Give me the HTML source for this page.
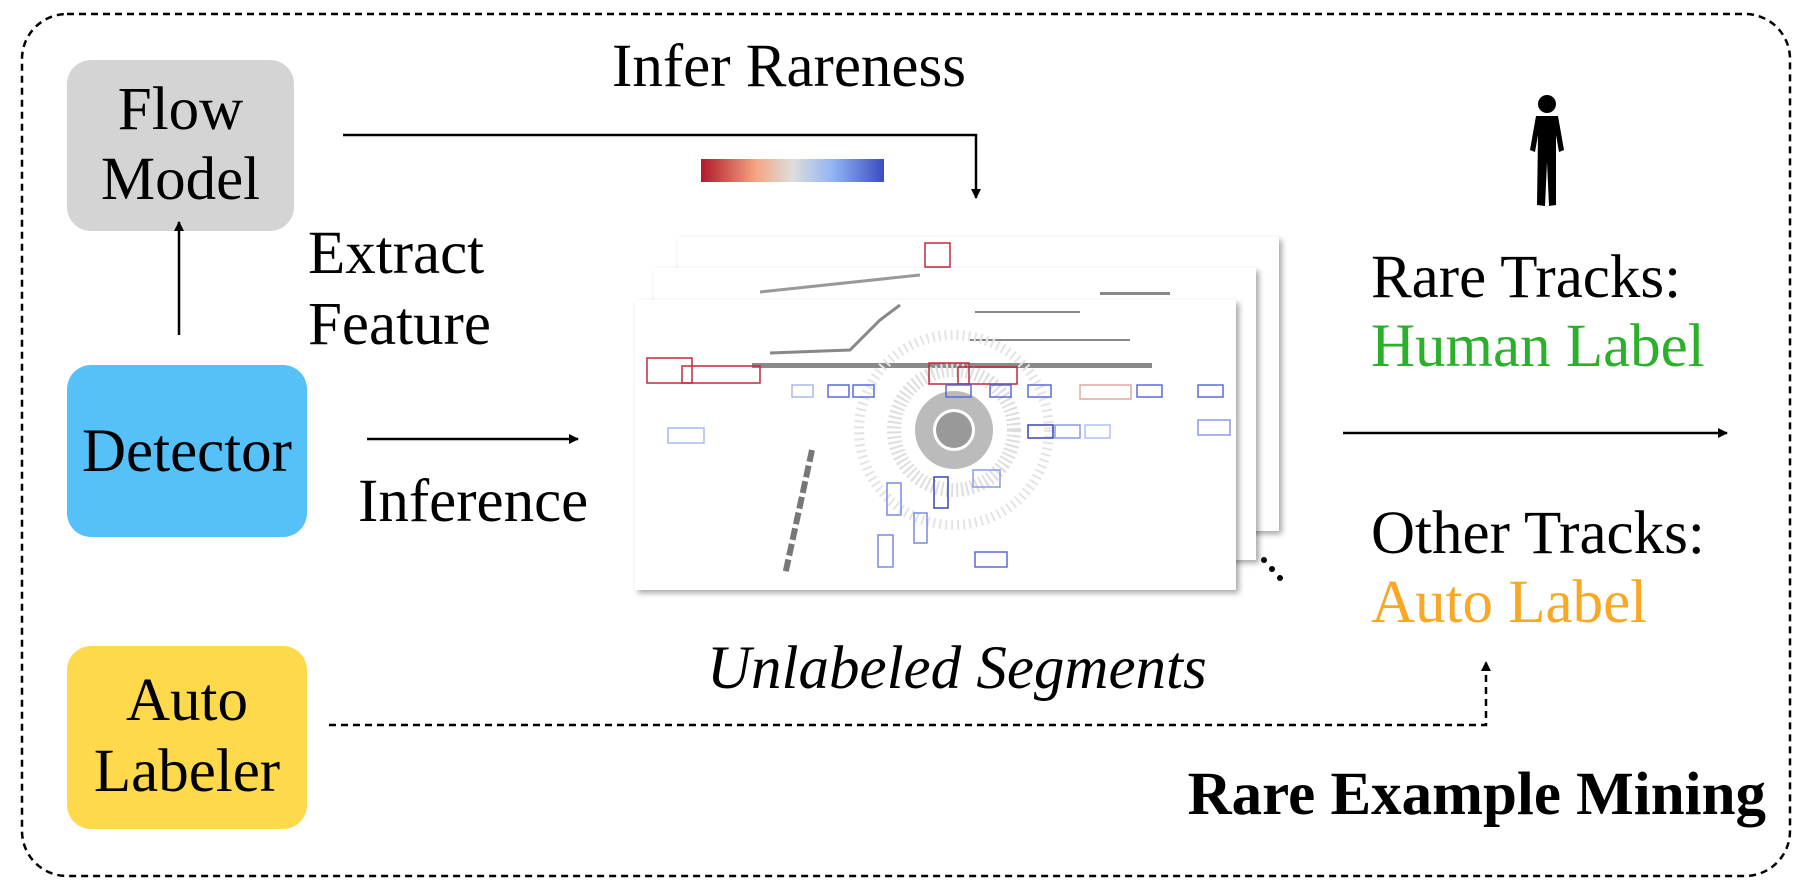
<!DOCTYPE html>
<html><head><meta charset="utf-8"><style>
body{margin:0;background:#fff;}
.c{position:relative;width:1810px;height:888px;overflow:hidden;font-family:"Liberation Serif",serif;}
.c div{white-space:nowrap;}
</style></head><body><div class="c">
<svg width="1810" height="888" viewBox="0 0 1810 888" style="position:absolute;left:0;top:0">
<defs>
<linearGradient id="g" x1="0" x2="1"><stop offset="0" stop-color="#b2182b"/><stop offset="0.3" stop-color="#f4a582"/><stop offset="0.5" stop-color="#dddddd"/><stop offset="0.72" stop-color="#92b4f4"/><stop offset="1" stop-color="#3a4cc0"/></linearGradient>
<marker id="a" markerWidth="10" markerHeight="10" refX="9" refY="5" orient="auto" markerUnits="userSpaceOnUse"><path d="M0,0 L10,5 L0,10 z" fill="#000"/></marker>
<filter id="sh" x="-5%" y="-5%" width="115%" height="115%"><feDropShadow dx="3" dy="3" stdDeviation="3" flood-color="#000" flood-opacity="0.35"/></filter>
</defs>
<rect x="22" y="14" width="1768" height="862" rx="45" fill="none" stroke="#000" stroke-width="2.5" stroke-dasharray="7,5"/>
<rect x="67" y="60" width="227" height="171" rx="24" fill="#d4d4d4"/>
<rect x="67" y="365" width="240" height="172" rx="24" fill="#56c0f9"/>
<rect x="67" y="646" width="240" height="183" rx="24" fill="#fdd94b"/>
<line x1="179" y1="335" x2="179" y2="222" stroke="#000" stroke-width="2.5" marker-end="url(#a)"/>
<polyline points="343,135 976,135 976,198" fill="none" stroke="#000" stroke-width="2.5" marker-end="url(#a)"/>
<rect x="701" y="159" width="183" height="23" fill="url(#g)"/>
<line x1="367" y1="439" x2="578" y2="439" stroke="#000" stroke-width="2.5" marker-end="url(#a)"/>
<line x1="1343" y1="433" x2="1727" y2="433" stroke="#000" stroke-width="2.5" marker-end="url(#a)"/>
<polyline points="329,725 1486,725 1486,662" fill="none" stroke="#000" stroke-width="2.5" stroke-dasharray="7,5" marker-end="url(#a)"/>
<rect x="678" y="237" width="601" height="294" fill="#fff" filter="url(#sh)"/>
<rect x="925" y="243" width="25" height="24" fill="none" stroke="#c0283a" stroke-width="1.5"/>
<rect x="654" y="268" width="602" height="292" fill="#fff" filter="url(#sh)"/>
<line x1="760" y1="292" x2="920" y2="275" stroke="#999" stroke-width="3"/>
<rect x="1100" y="292" width="70" height="3" fill="#888"/>
<rect x="635" y="300" width="601" height="290" fill="#fff" filter="url(#sh)"/>
<g stroke="#888" fill="none">
<rect x="752" y="363" width="400" height="5" fill="#8a8a8a" stroke="none"/>
<path d="M770,353 L850,350 L880,320 L900,305" stroke-width="3"/>
<path d="M970,340 L1130,340 M975,312 L1080,312" stroke-width="2"/>
<circle cx="954" cy="430" r="30" stroke-width="18" stroke="#bbb"/>
<circle cx="954" cy="430" r="60" stroke-width="14" stroke="#ddd" stroke-dasharray="2,3"/>
<circle cx="954" cy="430" r="95" stroke-width="10" stroke="#e4e4e4" stroke-dasharray="2,4"/>
<circle cx="954" cy="430" r="18" fill="#999" stroke="none"/>
<path d="M812,450 L785,575" stroke="#777" stroke-width="6" stroke-dasharray="12,4"/>
</g>
<g fill="none" stroke-width="1.5">
<rect x="647" y="358" width="45" height="25" stroke="#c0283a"/><rect x="682" y="366" width="78" height="17" stroke="#c0283a"/>
<rect x="929" y="363" width="40" height="21" stroke="#c0283a"/><rect x="958" y="367" width="59" height="17" stroke="#c0283a"/>
<rect x="1080" y="385" width="51" height="14" stroke="#e0a8a0"/>
<g stroke="#5a6ad8">
<rect x="792" y="385" width="21" height="12" stroke="#a8b8ec"/><rect x="828" y="385" width="21" height="12"/><rect x="853" y="385" width="21" height="12"/>
<rect x="946" y="385" width="25" height="12"/><rect x="990" y="385" width="21" height="12"/><rect x="1028" y="385" width="23" height="12"/>
<rect x="1137" y="385" width="25" height="12"/><rect x="1198" y="385" width="25" height="12"/>
<rect x="668" y="428" width="36" height="15" stroke="#a8b8ec"/><rect x="1028" y="425" width="25" height="13" stroke="#3a46b0"/>
<rect x="1055" y="425" width="25" height="13" stroke="#8a9ae4"/><rect x="1085" y="425" width="25" height="13" stroke="#b0c0f0"/>
<rect x="1198" y="420" width="32" height="15" stroke="#8a9ae4"/>
<rect x="887" y="483" width="14" height="32" stroke="#7a8ae0"/><rect x="934" y="477" width="14" height="31" stroke="#3a46b0"/>
<rect x="914" y="513" width="13" height="30" stroke="#7a8ae0"/><rect x="878" y="535" width="15" height="32" stroke="#7a8ae0"/>
<rect x="975" y="552" width="32" height="15"/><rect x="973" y="470" width="27" height="17" stroke="#8a9ae4"/>
</g></g>
<circle cx="1264" cy="560" r="3" fill="#000"/><circle cx="1272" cy="569" r="3" fill="#000"/><circle cx="1280" cy="578" r="3" fill="#000"/>
<g fill="#000">
<circle cx="1547" cy="104" r="9"/>
<path d="M1536,116 L1558,116 L1564,150 L1559,152 L1556,135 L1556,205 L1549,206 L1547,162 L1545,206 L1537,205 L1538,135 L1535,152 L1530,150 Z"/>
</g>
</svg>
<div style="position:absolute;left:67px;width:227px;top:75px;text-align:center;font-size:61px;line-height:70px">Flow<br>Model</div>
<div style="position:absolute;left:67px;width:240px;top:419px;text-align:center;font-size:61px;line-height:66px">Detector</div>
<div style="position:absolute;left:67px;width:240px;top:665px;text-align:center;font-size:61px;line-height:71px">Auto<br>Labeler</div>
<div style="position:absolute;left:612px;top:35px;font-size:61px;line-height:64px">Infer Rareness</div>
<div style="position:absolute;left:308px;top:218px;font-size:61px;line-height:71px">Extract<br>Feature</div>
<div style="position:absolute;left:358px;top:470px;font-size:61px;line-height:64px">Inference</div>
<div style="position:absolute;left:707px;top:637px;font-size:61px;line-height:64px;font-style:italic">Unlabeled Segments</div>
<div style="position:absolute;left:1371px;top:243px;font-size:61px;line-height:69px">Rare Tracks:<br><span style="color:#2bb02b">Human Label</span></div>
<div style="position:absolute;left:1371px;top:499px;font-size:61px;line-height:69px">Other Tracks:<br><span style="color:#f9a825">Auto Label</span></div>
<div style="position:absolute;right:44px;top:763px;font-size:61px;line-height:64px;font-weight:bold">Rare Example Mining</div>
</div></body></html>
